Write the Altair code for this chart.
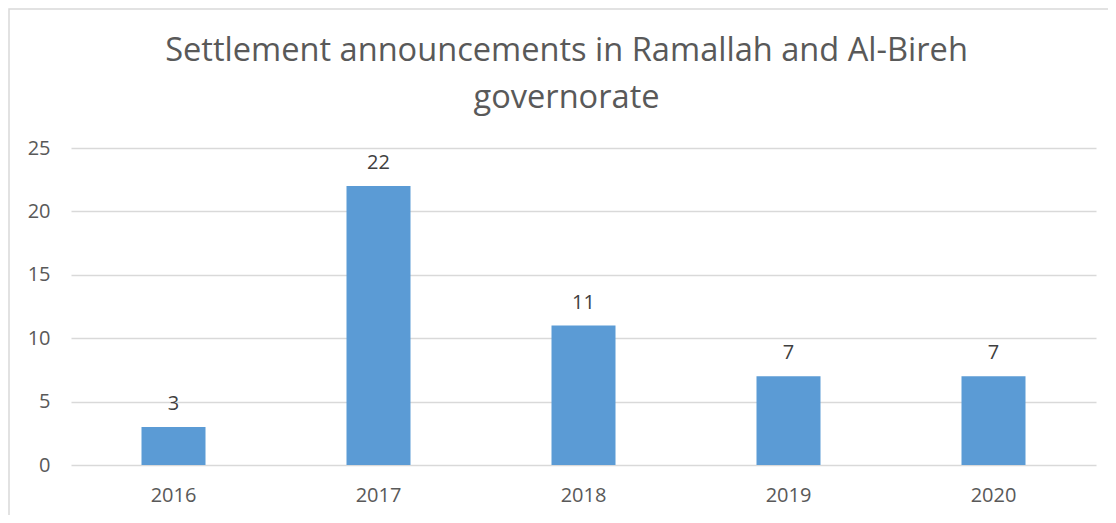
import altair as alt
import pandas as pd

years = ["2016", "2017", "2018", "2019", "2020"]
counts = [3, 22, 11, 7, 7]

df = pd.DataFrame({"year": years, "count": counts})

W, H = 1025, 317
FONT = "Open Sans"
GREY = "#595959"

base = alt.Chart(df)

bars = base.mark_bar(color="#5B9BD5", size=64).encode(
    x=alt.X("year:N", sort=years, title=None,
            scale=alt.Scale(paddingInner=0, paddingOuter=0),
            axis=alt.Axis(labelAngle=0, domain=False, ticks=False, labelPadding=20,
                          labelFontSize=20, labelColor=GREY, labelFont=FONT, grid=False)),
    y=alt.Y("count:Q", title=None,
            scale=alt.Scale(domain=[0, 25], nice=False),
            axis=alt.Axis(values=[0, 5, 10, 15, 20, 25], domain=False, ticks=False,
                          labelPadding=21, labelFontSize=20, labelColor=GREY, labelFont=FONT,
                          gridColor="#d9d9d9", gridWidth=1.5)),
)

labels = base.mark_text(baseline="alphabetic", dy=-17, fontSize=20, color="#404040", font=FONT).encode(
    x=alt.X("year:N", sort=years),
    y=alt.Y("count:Q"),
    text=alt.Text("count:Q"),
)

border = alt.Chart(pd.DataFrame({"b": [0]})).mark_rect(
    fill="white", fillOpacity=0, stroke="#d9d9d9", strokeWidth=1.5
).encode(
    x=alt.value(-62), x2=alt.value(W + 40), y=alt.value(-139), y2=alt.value(H + 80)
)

chart = alt.layer(border, bars, labels).properties(
    width=W, height=H,
    autosize=alt.AutoSizeParams(type="none"),
    padding={"left": 63, "top": 140, "right": 12, "bottom": 50},
    title=alt.Title(["Settlement announcements in Ramallah and Al-Bireh", "governorate"],
                    font=FONT, fontSize=32.6, fontWeight="normal", color=GREY,
                    anchor="middle", baseline="bottom", lineHeight=47, offset=-139, dx=-17),
).configure_view(stroke=None)

chart.save("out.html", embed_options={"renderer": "svg", "actions": False})
